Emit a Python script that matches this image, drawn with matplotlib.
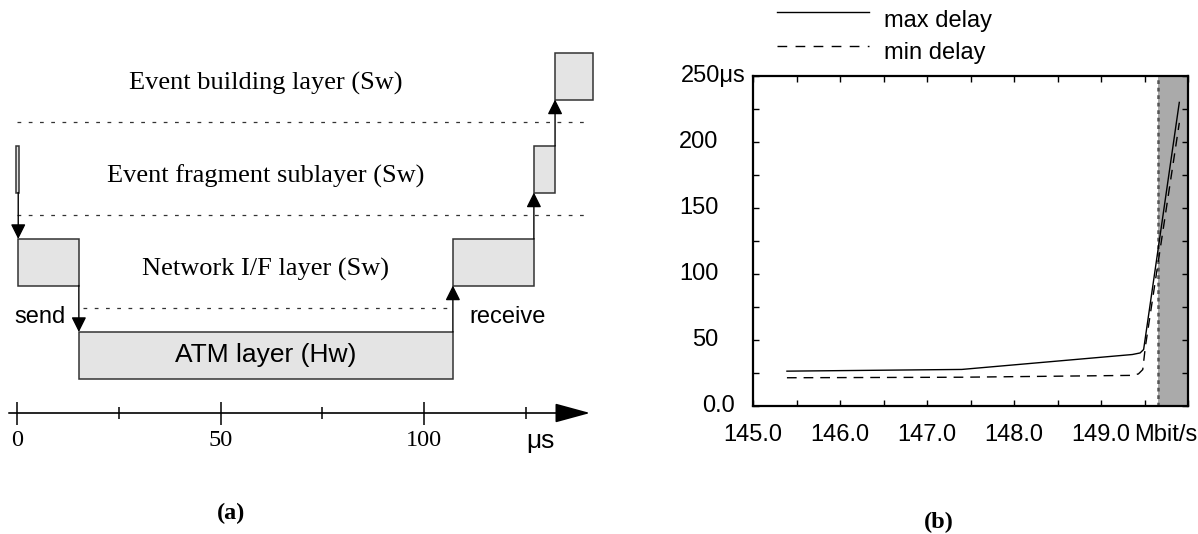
import numpy as np
import matplotlib
matplotlib.use('Agg')
import matplotlib.pyplot as plt
from matplotlib.patches import Rectangle
from matplotlib.lines import Line2D
from matplotlib.ticker import MultipleLocator

plt.rcParams['font.family'] = ['Liberation Sans', 'DejaVu Sans']
SERIF = ['Liberation Serif', 'DejaVu Serif']

# (a) timeline of one event fragment through the layers, times in us
layer_names = ['Event building layer (Sw)', 'Event fragment sublayer (Sw)',
               'Network I/F layer (Sw)', 'ATM layer (Hw)']
step_layer = [1, 2, 3, 2, 1, 0]
step_start = [-0.2, 0.3, 15.2, 107.1, 127.0, 132.2]
step_end = [0.55, 15.2, 107.1, 127.0, 132.2, 141.5]
time_ticks = [0, 25, 50, 75, 100, 125]
time_labels = ['0', '', '50', '', '100', '']

# (b) delay vs offered load (Mbit/s)
max_rate = [145.39, 147.40, 149.36, 149.45, 149.49, 149.90]
max_delay = [26.4, 27.7, 39.0, 40.2, 42.8, 230.0]
min_rate = [145.39, 147.40, 149.36, 149.43, 149.48, 149.51, 149.90]
min_delay = [21.4, 21.8, 23.2, 24.3, 27.6, 45.0, 214.5]
saturation = 149.65
rate_ticks = [145.0, 146.0, 147.0, 148.0, 149.0]
delay_ticks = [0, 50, 100, 150, 200, 250]
delay_labels = ['0.0', '50', '100', '150', '200', '250μs']

W, H = 1198, 534
fig = plt.figure(figsize=(W / 100, H / 100), dpi=100)

# ---------------- panel (a): drawn in pixel rows, time on x
T0_PX, PX_PER_US = 17, 4.07
ax = fig.add_axes([0, 0, 600 / W, 1])
ax.set_xlim(-T0_PX / PX_PER_US, (600 - T0_PX) / PX_PER_US)
ax.set_ylim(H, 0)
ax.set_axis_off()

row_top = [53, 146, 239, 332]
row_h = 46.5
box_kw = dict(facecolor='#e4e4e4', edgecolor='#333333', lw=1.1)

for lay, t0, t1 in zip(step_layer, step_start, step_end):
    ax.add_patch(Rectangle((t0, row_top[lay]), t1 - t0, row_h, **box_kw))

# arrows between consecutive steps
arrow_kw = dict(arrowstyle='-|>,head_length=0.6,head_width=0.3',
                mutation_scale=15, lw=1.0, color='k', shrinkA=0, shrinkB=0)
for i in range(len(step_layer) - 1):
    a, b = step_layer[i], step_layer[i + 1]
    t = step_start[i + 1]
    if b > a:
        y0, y1 = row_top[a] + row_h, row_top[b]
    else:
        y0, y1 = row_top[a], row_top[b] + row_h
    ax.annotate('', xy=(t, y1), xytext=(t, y0), arrowprops=arrow_kw)

# dotted layer separators
dot = dict(color='#333333', lw=0.9, linestyles=(0, (3, 6)))
ax.hlines([row_top[1] - 24, row_top[2] - 24], 0, 139.5, **dot)
ax.hlines(row_top[3] - 24, step_start[2] + 1.0, step_end[2] - 0.7, **dot)

# layer labels
for k, name in enumerate(layer_names[:3]):
    ax.text(61.0, row_top[k] + 30, name, ha='center', va='center',
            family=SERIF, fontsize=19)
ax.text(61.0, row_top[3] + 23, layer_names[3], ha='center', va='center',
        fontsize=19)
ax.text(5.7, 317, 'send', ha='center', va='center', fontsize=17)
ax.text(120.6, 317, 'receive', ha='center', va='center', fontsize=17)

# time axis
AX_Y = 413
ax.annotate('', xy=(140.8, AX_Y), xytext=(-2.0, AX_Y),
            arrowprops=dict(arrowstyle='-|>,head_length=1.1,head_width=0.3',
                            mutation_scale=20, lw=1.2, color='k',
                            shrinkA=0, shrinkB=0))
for t, lab in zip(time_ticks, time_labels):
    if lab:
        ax.vlines(t, AX_Y - 11, AX_Y + 12, color='k', lw=1.1)
        ax.text(t, 441, lab, ha='center', va='center', family=SERIF, fontsize=17.5)
    else:
        ax.vlines(t, AX_Y - 6, AX_Y + 6, color='k', lw=1.1)
ax.text(128.7, 441, 'μs', ha='center', va='center', fontsize=19)

fig.text(231 / W, 1 - 513 / H, '(a)', ha='center', va='center',
         family=SERIF, fontweight='bold', fontsize=17.5)

# ---------------- panel (b)
ax2 = fig.add_axes([753 / W, 1 - 406 / H, 435 / W, 330 / H])
ax2.axvspan(saturation, 150, color='#aaaaaa', lw=0)
ax2.axvline(saturation, color='#555555', lw=1.8, ls=(0, (1.5, 1.5)))
ax2.plot(max_rate, max_delay, color='k', lw=1.0)
ax2.plot(min_rate, min_delay, color='k', lw=1.0, dashes=(7, 5))
ax2.set_xlim(145, 150)
ax2.set_ylim(0, 250)

for s in ax2.spines.values():
    s.set_linewidth(1.6)
ax2.set_xticks(rate_ticks, labels=[f'{v:.1f}' for v in rate_ticks])
ax2.xaxis.set_minor_locator(MultipleLocator(0.5))
ax2.set_yticks(np.arange(0, 251, 25), labels=[])
ax2.tick_params(which='both', direction='in', top=True, right=True,
                length=4, width=1.0, labelsize=17)
ax2.tick_params(axis='x', pad=13)
for lbl in ax2.get_xticklabels()[-1:]:
    lbl.set_x(148.96)

offsets = {'0.0': 13, '250μs': 5}
for v, lab in zip(delay_ticks, delay_labels):
    ax2.annotate(lab, xy=(0, v), xycoords=ax2.get_yaxis_transform(),
                 xytext=(-offsets.get(lab, 25), 0), textcoords='offset points',
                 ha='right', va='center', fontsize=17, annotation_clip=False)
fig.text(1134 / W, 1 - 435 / H, 'Mbit/s', ha='left', va='center', fontsize=17)

# legend above the plot
fig.add_artist(Line2D([777 / W, 869 / W], [1 - 12 / H, 1 - 12 / H],
                      color='k', lw=1.0))
fig.add_artist(Line2D([777 / W, 869 / W], [1 - 46 / H, 1 - 46 / H],
                      color='k', lw=1.0, dashes=(7, 6)))
fig.text(884 / W, 1 - 27 / H, 'max delay', ha='left', va='baseline', fontsize=17)
fig.text(884 / W, 1 - 59 / H, 'min delay', ha='left', va='baseline', fontsize=17)

fig.text(939 / W, 1 - 522 / H, '(b)', ha='center', va='center',
         family=SERIF, fontweight='bold', fontsize=17.5)

fig.savefig('out.png', dpi=100)
